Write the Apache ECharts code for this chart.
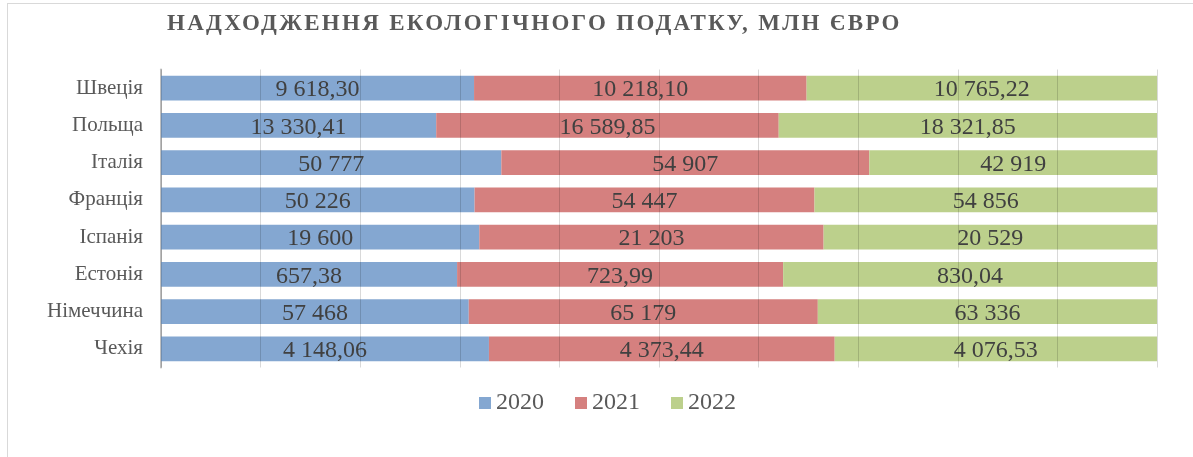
<!DOCTYPE html>
<html>
<head>
<meta charset="utf-8">
<script src="https://cdn.jsdelivr.net/npm/echarts@6/dist/echarts.min.js"></script>
<style>
  html, body { margin: 0; padding: 0; background: #fff; }
  #frame { position: absolute; left: 7px; top: 3px; width: 1300px; height: 600px; border: 1px solid #d9d9d9; }
  #chart { position: absolute; left: 0; top: 0; width: 1193px; height: 457px; }
  #title {
    position: absolute; left: 167px; top: 11px; z-index: 2;
    font: bold 23px/23px 'Liberation Serif', 'DejaVu Serif', serif;
    letter-spacing: 2.3px; color: #595959; white-space: nowrap;
  }
</style>
</head>
<body>
<div id="frame"></div>
<div id="chart"></div>
<div id="title">НАДХОДЖЕННЯ ЕКОЛОГІЧНОГО ПОДАТКУ, МЛН ЄВРО</div>
<script>
// Надходження екологічного податку, млн євро
const countries = ["Швеція", "Польща", "Італія", "Франція", "Іспанія", "Естонія", "Німеччина", "Чехія"]
const years = ["2020", "2021", "2022"]
const values2020 = [9618.30, 13330.41, 50777, 50226, 19600, 657.38, 57468, 4148.06]
const values2021 = [10218.10, 16589.85, 54907, 54447, 21203, 723.99, 65179, 4373.44]
const values2022 = [10765.22, 18321.85, 42919, 54856, 20529, 830.04, 63336, 4076.53]
const decimals = [2, 2, 0, 0, 0, 2, 0, 2]
const colors = ["#84A7D1", "#D5807F", "#BCD08C"]

const raw = [values2020, values2021, values2022]
const totals = countries.map((_, i) => raw.reduce((s, arr) => s + arr[i], 0))

function fmt(v, d) {
  const parts = v.toFixed(d).split(".")
  const intPart = parts[0].replace(/\B(?=(\d{3})+(?!\d))/g, " ")
  return parts.length > 1 ? intPart + "," + parts[1] : intPart
}

const serif = "'Liberation Serif', 'DejaVu Serif', serif"

const myChart = echarts.init(document.getElementById("chart"))

const option = {
  backgroundColor: "transparent",
  animation: false,
  legend: {
    data: years,
    left: 474,
    top: 386,
    itemWidth: 12,
    itemHeight: 12,
    itemGap: 31,
    icon: "rect",
    textStyle: { color: "#595959", fontFamily: serif, fontSize: 24 },
  },
  grid: { left: 161, right: 36, top: 69.5, bottom: 89.5 },
  xAxis: {
    type: "value",
    min: 0,
    max: 100,
    interval: 10,
    z: 3,
    axisLabel: { show: false },
    axisLine: { show: false },
    axisTick: { show: false },
    splitLine: { lineStyle: { color: "rgba(0,0,0,0.15)", width: 1 } },
  },
  yAxis: {
    type: "category",
    inverse: true,
    data: countries,
    axisTick: { show: false },
    axisLine: { lineStyle: { color: "#bfbfbf", width: 2 } },
    axisLabel: { color: "#595959", fontFamily: serif, fontSize: 21, margin: 18 },
  },
  series: years.map((y, k) => ({
    name: y,
    type: "bar",
    stack: "total",
    barWidth: "67%",
    itemStyle: { color: colors[k] },
    label: {
      show: true,
      position: "inside",
      offset: [0, 2],
      color: "#404040",
      fontFamily: serif,
      fontSize: 24,
      formatter: (p) => fmt(raw[k][p.dataIndex], decimals[p.dataIndex]),
    },
    data: raw[k].map((v, i) => (v / totals[i]) * 100),
  })),
}

myChart.setOption(option)
</script>
</body>
</html>
